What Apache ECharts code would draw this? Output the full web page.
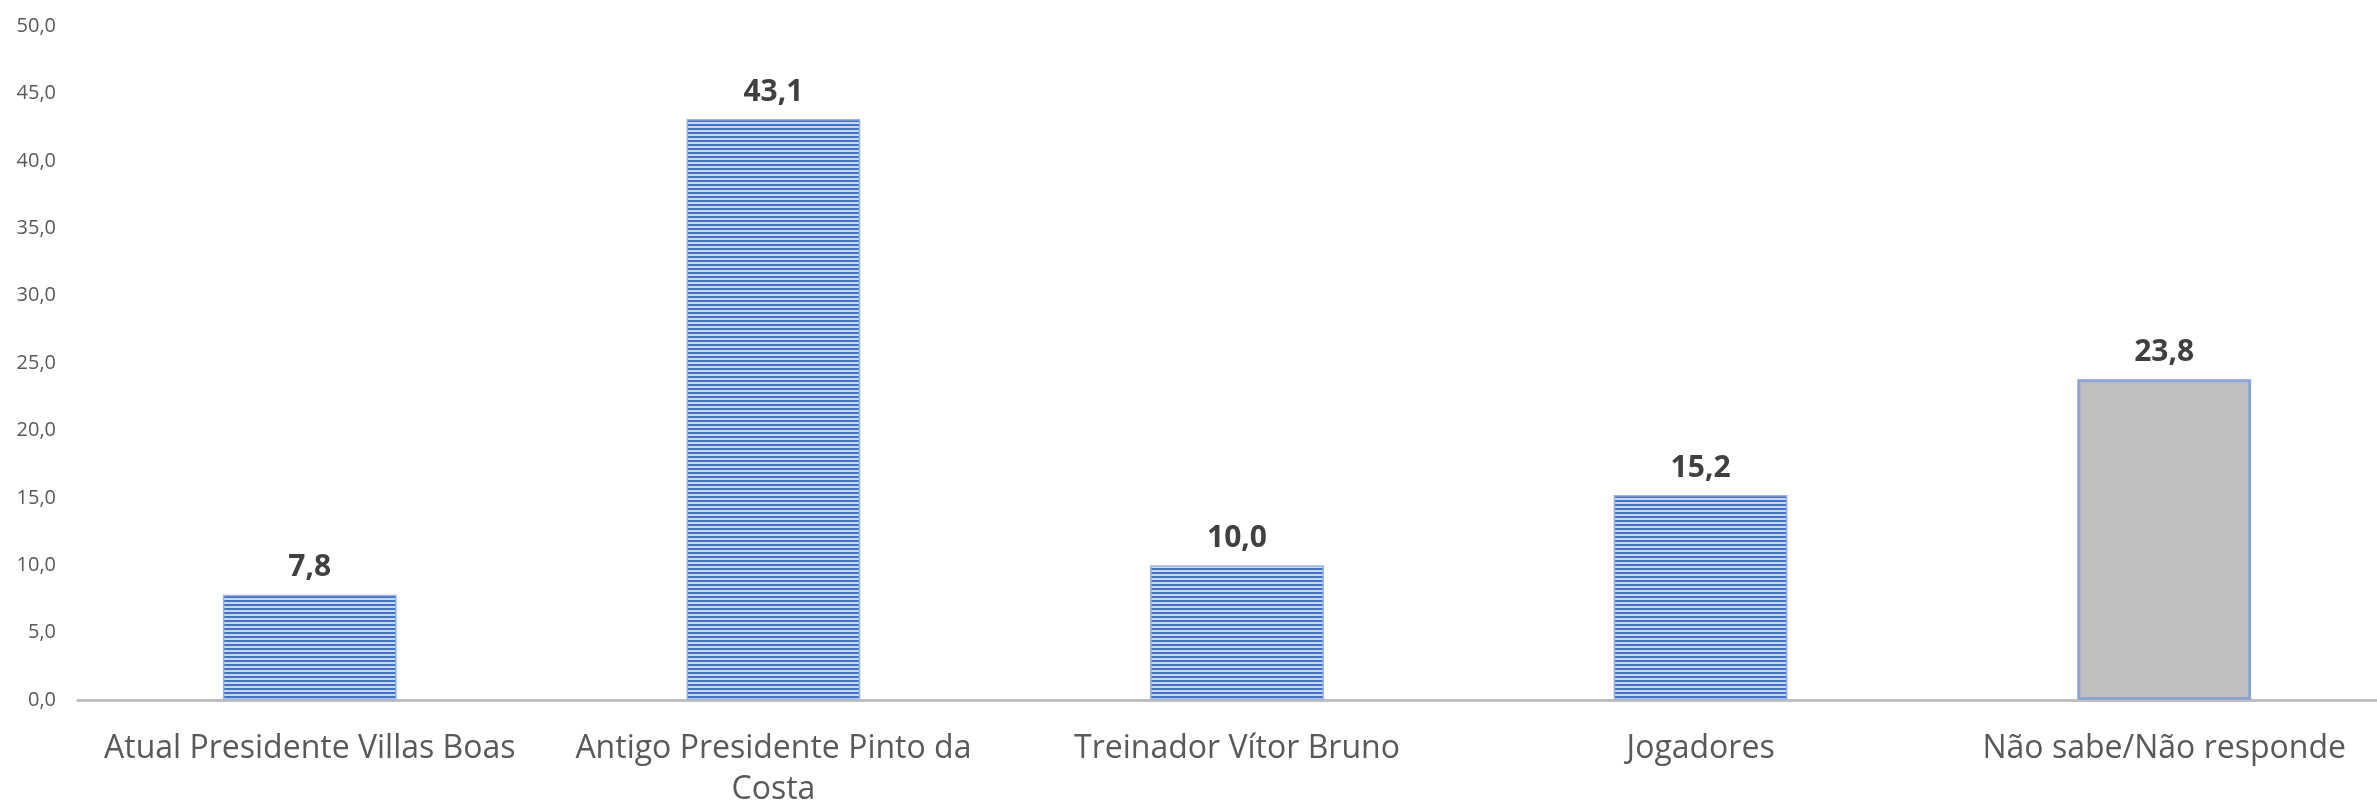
<!DOCTYPE html>
<html>
<head>
<meta charset="utf-8">
<script src="https://cdn.jsdelivr.net/npm/echarts@6/dist/echarts.min.js"></script>
<style>
  html, body { margin: 0; padding: 0; background: #fff; }
  #myChart { width: 2377px; height: 808px; }
</style>
</head>
<body>
<div id="myChart"></div>
<script>
// Data
const categories = [
  "Atual Presidente Villas Boas",
  "Antigo Presidente Pinto da\nCosta",
  "Treinador Vítor Bruno",
  "Jogadores",
  "Não sabe/Não responde"
];
const values = [7.8, 43.1, 10.0, 15.2, 23.8];
const yTicks = [0, 5, 10, 15, 20, 25, 30, 35, 40, 45, 50];

// horizontal stripe pattern for the blue bars
function stripePattern() {
  const c = document.createElement("canvas");
  c.width = 8;
  c.height = 4;
  const ctx = c.getContext("2d");
  ctx.fillStyle = "#C9D6EF";
  ctx.fillRect(0, 0, 8, 4);
  ctx.fillStyle = "#4472C4";
  ctx.fillRect(0, 0, 8, 2);
  return c;
}
const pattern = { image: stripePattern(), repeat: "repeat" };

let myChart = echarts.init(document.getElementById("myChart"));

const fmt = (v) => v.toFixed(1).replace(".", ",");

let option = {
  animation: false,
  grid: {
    left: 78,
    width: 2318,
    top: 26,
    bottom: 108,
    outerBoundsMode: "none"
  },
  xAxis: {
    type: "category",
    data: categories,
    axisLine: { lineStyle: { color: "#BFBFBF", width: 3 } },
    axisTick: { show: false },
    axisLabel: {
      color: "#595959",
      fontFamily: "Open Sans",
      fontSize: 32,
      margin: 28,
      lineHeight: 41,
      interval: 0
    }
  },
  yAxis: {
    type: "value",
    min: yTicks[0],
    max: yTicks[yTicks.length - 1],
    interval: 5,
    splitLine: { show: false },
    axisLine: { show: false },
    axisLabel: {
      color: "#595959",
      fontFamily: "Open Sans",
      fontSize: 20,
      margin: 22,
      formatter: fmt
    }
  },
  series: [
    {
      type: "bar",
      barWidth: "37.5%",
      data: values.map((v, i) => ({
        value: v,
        itemStyle: i === values.length - 1
          ? { color: "#BFBFBF", borderColor: "#8EA3CF", borderWidth: 3 }
          : { color: pattern, borderColor: "#9DB3DE", borderWidth: 1.5 }
      })),
      label: {
        show: true,
        position: "top",
        distance: 12,
        color: "#404040",
        fontFamily: "Open Sans",
        fontWeight: "bold",
        fontSize: 30,
        formatter: (p) => fmt(p.value)
      }
    }
  ]
};

myChart.setOption(option);
</script>
</body>
</html>
